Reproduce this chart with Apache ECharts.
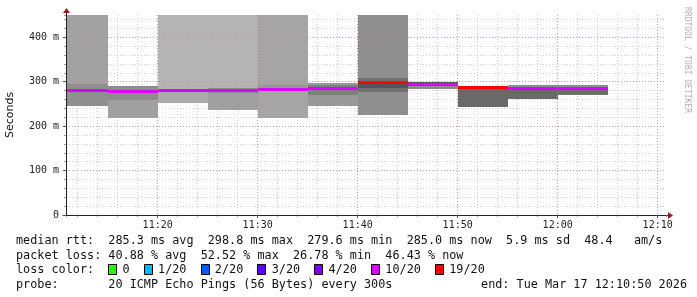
<!DOCTYPE html>
<html><head><meta charset="utf-8">
<script src="https://cdn.jsdelivr.net/npm/echarts@6/dist/echarts.min.js"></script>
<style>html,body{margin:0;padding:0;background:#fff}#c{width:697px;height:297px}</style>
</head><body><div id="c"></div>
<script>
// ---------------- data ----------------
const viewStart = '11:10:50';
const viewEnd = '12:10:50';
const slotStart = ['11:10','11:15','11:20','11:25','11:30','11:35','11:40','11:45','11:50','11:55','12:00'];
const slotMinutes = 5;
// smoke bands (ms): outer / middle / core
const smokeOuterLo = [245, 218, 252.5, 236, 218, 245.3, 225, 283.5, 243.8, 261, 270];
const smokeOuterHi = [520, 290, 520, 520, 520, 297.7, 520, 300, 289, 293, 292.5];
const smokeMidLo   = [245, 259, 252.5, 236, 278, 270, 277, 293, null, 261, 270];
const smokeMidHi   = [295, 290, 281, 286.4, 292, 291.8, 307.5, 300, null, 288.5, 288];
const smokeCoreLo  = [null, null, null, 275, null, null, 285, null, null, null, null];
const smokeCoreHi  = [null, null, null, 286.4, null, null, 296, null, null, null, null];
const medianRtt    = [281.3, 279.6, 280.3, 280.8, 283.3, 285.2, 298.8, 295.5, 288.5, 285.7, 285.0];
const lostPings    = [11, 10, 10, 11, 10, 10, 19, 12, 19, 10, 10];
const lossThresholds = [0, 1, 2, 3, 4, 10, 19];
const lossLabels = ['0', '1/20', '2/20', '3/20', '4/20', '10/20', '19/20'];
const xTickLabels = ['11:20', '11:30', '11:40', '11:50', '12:00', '12:10'];
const yTickValues = [0, 100, 200, 300, 400];
const yTickLabels = ['0', '100 m', '200 m', '300 m', '400 m'];
const rttStats = ['285.3', '298.8', '279.6', '285.0', '5.9', '48.4'];
const lossStats = ['40.88', '52.52', '26.78', '46.43'];
const probeText = '20 ICMP Echo Pings (56 Bytes) every 300s';
const endText = 'Tue Mar 17 12:10:50 2026';
const yMax = 450;

// ---------------- styles ----------------
const lossColors = ['#26ff00', '#00b8ff', '#0059ff', '#5e00ff', '#7e00ff', '#dd00ff', '#ff0000'];
const outerShade = ['#a2a2a2', '#a0a0a0', '#b4b4b4', '#b4b4b4', '#a5a5a5', '#999999', '#8f8f8f', '#8a8a8a', '#696969', '#8c8c8c', '#8c8c8c'];
const midShade   = ['#8f8f8f', '#8c8c8c', '#a9a9a9', '#9f9f9f', '#969696', '#7f7f7f', '#707070', '#5a5a5a', null, '#6a6a6a', '#6d6d6d'];
const coreShade  = [null, null, null, '#8d8d8d', null, null, '#555555', null, null, null, null];

const mono = '"DejaVu Sans Mono", "Liberation Mono", monospace';
const toMin = s => { const p = s.split(':').map(Number); return p[0] * 60 + p[1] + (p[2] || 0) / 60; };
const fmtHM = v => { const m = Math.round(v); const h = Math.floor(m / 60), mm = m % 60; return String(h).padStart(2, '0') + ':' + String(mm).padStart(2, '0'); };
const lossColor = n => { let c = lossColors[0]; lossThresholds.forEach((t, k) => { if (n >= t) c = lossColors[k]; }); return c; };

const xMin = toMin(viewStart), xMax = toMin(viewEnd);
const chart = echarts.init(document.getElementById('c'), null, {renderer: 'canvas'});

const minorGrid = {show: true, lineStyle: {color: '#cccccc', width: 1, type: [1, 2]}, showMinLine: false, showMaxLine: false};
const majorGrid = {show: true, lineStyle: {color: 'rgba(215,120,120,0.6)', width: 1, type: [1, 2]}, showMinLine: false, showMaxLine: false};

chart.setOption({
  animation: false,
  backgroundColor: '#ffffff',
  grid: {left: 66, right: 31, top: 15, bottom: 82, containLabel: false, outerBoundsMode: 'none'},
  xAxis: [
    {type: 'value', min: xMin, max: xMax, splitNumber: 6, position: 'bottom', z: 3,
     axisLine: {show: true, lineStyle: {color: '#222', width: 1}},
     axisTick: {show: true, length: 3, lineStyle: {color: '#555'}},
     axisLabel: {show: true, margin: 5, showMinLabel: false, showMaxLabel: false,
       fontFamily: mono, fontSize: 10, color: '#222',
       formatter: v => { const s = fmtHM(v); return xTickLabels.includes(s) ? s : ''; }},
     splitLine: majorGrid},
    {type: 'value', min: xMin, max: xMax, splitNumber: 30, position: 'bottom', z: 2,
     axisLine: {show: false}, axisLabel: {show: false},
     axisTick: {show: true, length: 2, lineStyle: {color: '#999'}},
     splitLine: minorGrid}
  ],
  yAxis: [
    {type: 'value', min: 0, max: yMax, interval: 100, position: 'left', z: 3,
     name: 'Seconds', nameLocation: 'middle', nameRotate: 90, nameGap: 50, nameMoveOverlap: false,
     nameTextStyle: {fontFamily: '"DejaVu Sans", sans-serif', fontSize: 11, color: '#111'},
     axisLine: {show: true, lineStyle: {color: '#222', width: 1}},
     axisTick: {show: true, length: 3, lineStyle: {color: '#555'}},
     axisLabel: {show: true, margin: 7, showMaxLabel: false, fontFamily: mono, fontSize: 10, color: '#222',
       formatter: v => { const k = yTickValues.indexOf(v); return k >= 0 ? yTickLabels[k] : ''; }},
     splitLine: majorGrid},
    {type: 'value', min: 0, max: yMax, interval: 20, position: 'left', z: 2,
     axisLine: {show: false}, axisLabel: {show: false},
     axisTick: {show: true, length: 2, lineStyle: {color: '#999'}},
     splitLine: minorGrid}
  ],
  series: [{
    type: 'custom', xAxisIndex: 0, yAxisIndex: 0, clip: true,
    data: slotStart.map((s, i) => [toMin(s), toMin(s) + slotMinutes, medianRtt[i], i]),
    encode: {x: [0, 1], y: 2},
    renderItem: (params, api) => {
      const x0 = api.value(0), x1 = api.value(1), i = api.value(3);
      const children = [];
      const band = (lo, hi, color) => {
        if (lo == null || hi == null || !color) return;
        const a = api.coord([x0, hi]), b = api.coord([x1, lo]);
        const X0 = Math.round(a[0]), X1 = Math.round(b[0]), Y0 = Math.round(a[1]), Y1 = Math.round(b[1]);
        children.push({type: 'rect', shape: {x: X0, y: Y0, width: X1 - X0, height: Y1 - Y0}, style: {fill: color}});
      };
      band(smokeOuterLo[i], smokeOuterHi[i], outerShade[i]);
      band(smokeMidLo[i], smokeMidHi[i], midShade[i]);
      band(smokeCoreLo[i], smokeCoreHi[i], coreShade[i]);
      const m0 = api.coord([x0, medianRtt[i]]), m1 = api.coord([x1, medianRtt[i]]);
      const X0 = Math.round(m0[0]), X1 = Math.round(m1[0]), Y = Math.round(m0[1]);
      children.push({type: 'rect', shape: {x: X0, y: Y - 1, width: X1 - X0, height: 3}, style: {fill: lossColor(lostPings[i])}});
      return {type: 'group', children};
    }
  }]
});

// ---------------- decorations & legend ----------------
const legendFont = '11.8px ' + mono;
const ctx = document.createElement('canvas').getContext('2d');
ctx.font = legendFont;
const cw = ctx.measureText('MMMMMMMMMM').width / 10;
const lx = 16;
const line1 = 'median rtt:  ' + rttStats[0] + ' ms avg  ' + rttStats[1] + ' ms max  ' + rttStats[2] + ' ms min  ' +
  rttStats[3] + ' ms now  ' + rttStats[4] + ' ms sd  ' + rttStats[5] + '   am/s';
const line2 = 'packet loss: ' + lossStats[0] + ' % avg  ' + lossStats[1] + ' % max  ' + lossStats[2] + ' % min  ' + lossStats[3] + ' % now';
let line3 = 'loss color:  ';
const boxIdx = [];
lossLabels.forEach(l => { boxIdx.push(line3.length); line3 += '  ' + l + '  '; });
const line4 = 'probe:       ' + probeText;
const line4r = 'end: ' + endText;

const txt = (id, s, x, y, align) => ({type: 'text', id, x, y, silent: true,
  style: {text: s, font: legendFont, fill: '#111', align: align || 'left', verticalAlign: 'middle', textAlign: align || 'left', textVerticalAlign: 'middle'}});

const graphics = [
  txt('l1', line1, lx, 241),
  txt('l2', line2, lx, 255.5),
  txt('l3', line3, lx, 270),
  txt('l4', line4, lx, 284.5),
  txt('l4r', line4r, 687, 284.5, 'right')
];
boxIdx.forEach((k, j) => {
  graphics.push({type: 'rect', id: 'b' + j, silent: true,
    shape: {x: Math.round(lx + k * cw) + 0.5, y: 264.5, width: 8, height: 10},
    style: {fill: lossColors[j], stroke: '#000', lineWidth: 1}});
});
graphics.push({type: 'text', id: 'wm', x: 687, y: 60, rotation: -Math.PI / 2, silent: true,
  style: {text: 'RRDTOOL / TOBI OETIKER', font: '8px ' + mono, fill: '#b0b0b0', align: 'center', verticalAlign: 'middle', textAlign: 'center', textVerticalAlign: 'middle'}});

const tl = chart.convertToPixel({gridIndex: 0}, [xMin, yMax]);
const br = chart.convertToPixel({gridIndex: 0}, [xMax, 0]);
const ax = Math.round(tl[0]) + 0.5, ay = Math.round(br[1]) + 0.5;
graphics.push({type: 'line', id: 'yext', silent: true, shape: {x1: ax, y1: tl[1], x2: ax, y2: tl[1] - 3}, style: {stroke: '#222', lineWidth: 1}});
graphics.push({type: 'line', id: 'xext', silent: true, shape: {x1: br[0], y1: ay, x2: br[0] + 3, y2: ay}, style: {stroke: '#222', lineWidth: 1}});
graphics.push({type: 'line', id: 'xleft', silent: true, shape: {x1: ax - 4, y1: ay, x2: ax, y2: ay}, style: {stroke: '#222', lineWidth: 1}});
graphics.push({type: 'polygon', id: 'ya', silent: true,
  shape: {points: [[ax - 3.5, tl[1] - 2], [ax + 3.5, tl[1] - 2], [ax, tl[1] - 7]]}, style: {fill: '#9b1c1c'}});
graphics.push({type: 'polygon', id: 'xa', silent: true,
  shape: {points: [[br[0] + 2, ay - 3.5], [br[0] + 2, ay + 3.5], [br[0] + 7, ay]]}, style: {fill: '#9b1c1c'}});
chart.setOption({graphic: graphics});
</script></body></html>
